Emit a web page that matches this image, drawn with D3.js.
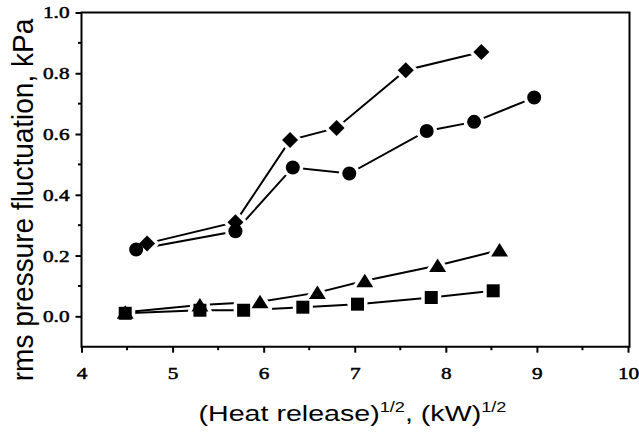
<!DOCTYPE html>
<html>
<head>
<meta charset="utf-8">
<script src="https://cdn.jsdelivr.net/npm/d3@7"></script>
<style>
  html, body { margin: 0; padding: 0; background: #fff; }
  svg { display: block; }
</style>
</head>
<body>
<svg id="chart" width="639" height="432"></svg>
<script>
// ---- data ----
const xTickValues = [4, 5, 6, 7, 8, 9, 10];
const xTickLabels = ["4", "5", "6", "7", "8", "9", "10"];
const xMinorTicks = [4.5, 5.5, 6.5, 7.5, 8.5, 9.5];
const yTickValues = [0.0, 0.2, 0.4, 0.6, 0.8, 1.0];
const yTickLabels = ["0.0", "0.2", "0.4", "0.6", "0.8", "1.0"];
const yMinorTicks = [0.1, 0.3, 0.5, 0.7, 0.9];

const diamondX = [4.72, 5.69, 6.29, 6.80, 7.56, 8.39];
const diamondY = [0.24, 0.31, 0.58, 0.62, 0.81, 0.87];
const circleX = [4.60, 5.69, 6.32, 6.94, 7.79, 8.31, 8.97];
const circleY = [0.22, 0.28, 0.49, 0.47, 0.61, 0.64, 0.72];
const triangleX = [4.48, 5.30, 5.96, 6.59, 7.11, 7.91, 8.59];
const triangleY = [0.013, 0.037, 0.048, 0.078, 0.117, 0.167, 0.218];
const squareX = [4.48, 5.30, 5.78, 6.43, 7.03, 7.84, 8.52];
const squareY = [0.01, 0.02, 0.02, 0.03, 0.04, 0.062, 0.084];

const xTitleMain = "(Heat release)";
const xTitleSup = "1/2";
const xTitleUnit = ", (kW)";
const yTitle = "rms pressure fluctuation, kPa";

// ---- layout ----
const svg = d3.select("#chart");
const pLeft = 81.5, pRight = 629.5, pTop = 12.5, pBottom = 346.7;
const x = d3.scaleLinear().domain([4, 10]).range([pLeft, 628]);
const y = d3.scaleLinear().domain([-0.1, 1.0]).range([pBottom, pTop]);
const labelStretch = 1.25;

svg.append("rect").attr("width", 639).attr("height", 432).attr("fill", "#fff");

// axes (major ticks)
const gx = svg.append("g").attr("transform", `translate(0,${pBottom})`)
  .call(d3.axisBottom(x).tickValues(xTickValues).tickSize(6).tickPadding(14)
        .tickFormat((d, i) => xTickLabels[i]));
const gy = svg.append("g").attr("transform", `translate(${pLeft},0)`)
  .call(d3.axisLeft(y).tickValues(yTickValues).tickSize(6).tickPadding(6)
        .tickFormat((d, i) => yTickLabels[i]));
[gx, gy].forEach(g => {
  g.select(".domain").remove();
  g.selectAll(".tick line").attr("stroke", "#000").attr("stroke-width", 2);
  g.selectAll(".tick text")
    .attr("fill", "#000")
    .attr("stroke", "#000").attr("stroke-width", 0.5)
    .style("font-family", "'Liberation Serif', 'Times New Roman', serif")
    .style("font-size", "17px");
});
gx.selectAll(".tick text").attr("transform", `scale(${labelStretch},1)`);
gy.selectAll(".tick text").attr("x", -12 / labelStretch).attr("transform", `scale(${labelStretch},1)`);

// minor ticks
svg.append("g").selectAll("line").data(xMinorTicks).join("line")
  .attr("x1", d => x(d)).attr("x2", d => x(d))
  .attr("y1", pBottom).attr("y2", pBottom + 3.5)
  .attr("stroke", "#000").attr("stroke-width", 2);
svg.append("g").selectAll("line").data(yMinorTicks).join("line")
  .attr("x1", pLeft - 3.5).attr("x2", pLeft)
  .attr("y1", d => y(d)).attr("y2", d => y(d))
  .attr("stroke", "#000").attr("stroke-width", 2);

// frame
svg.append("path")
  .attr("d", `M${pLeft},${pTop}H${pRight}V${pBottom}H${pLeft}Z`)
  .attr("fill", "none").attr("stroke", "#000").attr("stroke-width", 2);

// ---- series ----
const series = [
  { xs: diamondX, ys: diamondY, shape: "diamond" },
  { xs: circleX, ys: circleY, shape: "circle" },
  { xs: triangleX, ys: triangleY, shape: "triangle" },
  { xs: squareX, ys: squareY, shape: "square" }
];
series.forEach(s => { s.pts = s.xs.map((v, i) => [x(v), y(s.ys[i])]); });

function markerPath(shape, cx, cy) {
  if (shape === "circle") {
    const r = 7;
    return `M${cx - r},${cy}a${r},${r} 0 1,0 ${2 * r},0a${r},${r} 0 1,0 ${-2 * r},0Z`;
  }
  if (shape === "diamond") {
    const h = 8;
    return `M${cx},${cy - h}L${cx + h},${cy}L${cx},${cy + h}L${cx - h},${cy}Z`;
  }
  if (shape === "triangle") {
    return `M${cx},${cy - 7}L${cx + 8.5},${cy + 6.5}L${cx - 8.5},${cy + 6.5}Z`;
  }
  const a = 6.5;
  return `M${cx - a},${cy - a}H${cx + a}V${cy + a}H${cx - a}Z`;
}

const line = d3.line();
svg.append("g").selectAll("path").data(series).join("path")
  .attr("d", s => line(s.pts))
  .attr("fill", "none").attr("stroke", "#000").attr("stroke-width", 2);

// white halos so lines stop short of markers
series.forEach(s => {
  svg.append("g").selectAll("path").data(s.pts).join("path")
    .attr("d", p => markerPath(s.shape, p[0], p[1]))
    .attr("fill", "#fff").attr("stroke", "#fff").attr("stroke-width", 7)
    .attr("stroke-linejoin", "round");
});
series.forEach(s => {
  svg.append("g").selectAll("path").data(s.pts).join("path")
    .attr("d", p => markerPath(s.shape, p[0], p[1]))
    .attr("fill", "#000");
});

// ---- titles ----
const xt = svg.append("text")
  .attr("transform", `translate(352.5,421) scale(1.3,1)`)
  .attr("text-anchor", "middle")
  .style("font-family", "'Liberation Sans', Arial, sans-serif")
  .style("font-size", "22px").attr("fill", "#000");
xt.append("tspan").text(xTitleMain);
xt.append("tspan").attr("dy", -9).style("font-size", "14px").text(xTitleSup);
xt.append("tspan").attr("dy", 9).text(xTitleUnit);
xt.append("tspan").attr("dy", -9).style("font-size", "14px").text(xTitleSup);

svg.append("text")
  .attr("transform", `translate(33,200) rotate(-90) scale(1,1.07)`)
  .attr("text-anchor", "middle")
  .style("font-family", "'Liberation Sans', Arial, sans-serif")
  .style("font-size", "28px").attr("fill", "#000")
  .text(yTitle);
</script>
</body>
</html>
